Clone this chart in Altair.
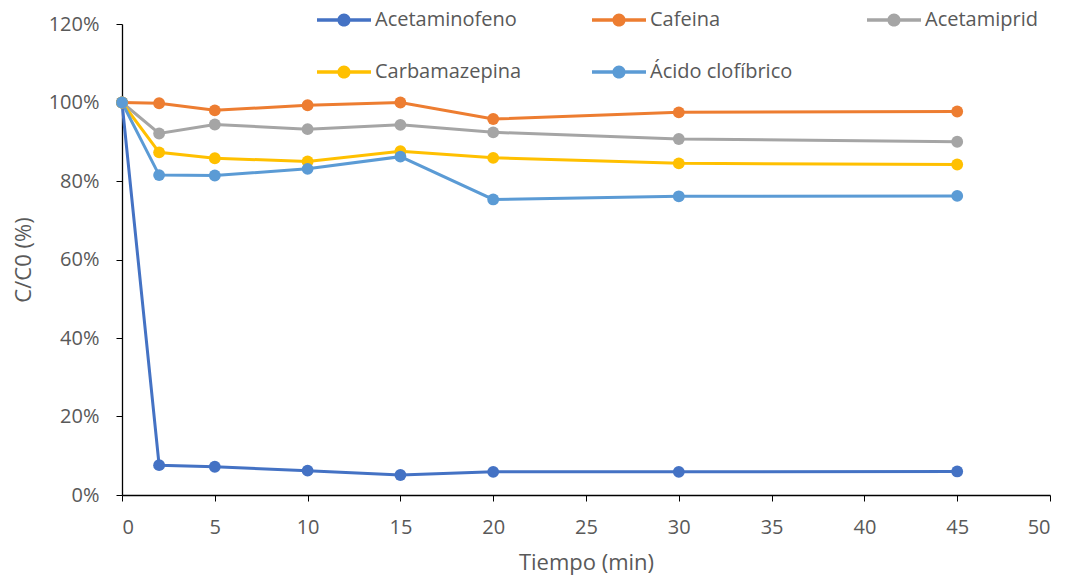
import altair as alt
import pandas as pd

tiempo = [0, 2, 5, 10, 15, 20, 30, 45]
acetaminofeno = [100, 7.6, 7.2, 6.2, 5.1, 5.9, 5.9, 6.0]
cafeina = [100, 99.8, 98.0, 99.3, 100.0, 95.8, 97.5, 97.7]
acetamiprid = [100, 92.1, 94.4, 93.2, 94.3, 92.4, 90.7, 90.0]
carbamazepina = [100, 87.3, 85.8, 85.0, 87.6, 85.9, 84.5, 84.2]
acido = [100, 81.5, 81.4, 83.1, 86.2, 75.3, 76.1, 76.2]

series = ["Acetaminofeno", "Cafeina", "Acetamiprid", "Carbamazepina", "Ácido clofíbrico"]
values = [acetaminofeno, cafeina, acetamiprid, carbamazepina, acido]
colors = ["#4472C4", "#ED7D31", "#A5A5A5", "#FFC000", "#5B9BD5"]

rows = []
for i, (s, v) in enumerate(zip(series, values)):
    for t, y in zip(tiempo, v):
        rows.append({"serie": s, "t": t, "c": y / 100.0, "ord": i})
df = pd.DataFrame(rows)

FONT = "Open Sans"
TXT = "#595959"

sym = ("M-1.8,-0.11 L1.8,-0.11 L1.8,0.11 L-1.8,0.11 Z "
       "M0.44,0 A0.44,0.44 0 1,1 -0.44,0 A0.44,0.44 0 1,1 0.44,0 Z")

legend = alt.Legend(
    title=None, orient="none", legendX=207, legendY=-19, columns=3,
    direction="horizontal", symbolType=sym, symbolSize=900,
    symbolStrokeWidth=0, labelFont=FONT, labelFontSize=20, labelColor=TXT,
    labelOffset=16, columnPadding=70, rowPadding=27, gridAlign="all",
    labelLimit=300,
)

color = alt.Color("serie:N", scale=alt.Scale(domain=series, range=colors),
                  sort=series, legend=legend)

x = alt.X("t:Q", title="Tiempo (min)",
          scale=alt.Scale(domain=[0, 50], nice=False),
          axis=alt.Axis(values=list(range(0, 55, 5)), grid=False,
                        labelPadding=16, titlePadding=15))
y = alt.Y("c:Q", title="C/C0 (%)",
          scale=alt.Scale(domain=[0, 1.2], nice=False),
          axis=alt.Axis(values=[0, 0.2, 0.4, 0.6, 0.8, 1.0, 1.2], format=".0%",
                        grid=False, labelPadding=17, titlePadding=13))

base = alt.Chart(df)
lines = base.mark_line(strokeWidth=3).encode(
    x=x, y=y, color=color, detail="serie:N", order="t:Q")
points = base.mark_point(filled=True, size=140, opacity=1).encode(
    x=x, y=y, color=color, order="ord:Q")

chart = alt.layer(lines, points).properties(
    width=928, height=471,
    autosize=alt.AutoSizeParams(type="none"),
    padding={"left": 122, "top": 24, "right": 35, "bottom": 89},
).configure_view(stroke=None).configure_axis(
    domainColor="#000000", tickColor="#000000", tickSize=6, domainWidth=1.3,
    labelFont=FONT, labelFontSize=20, labelColor=TXT,
    titleFont=FONT, titleFontSize=22, titleColor=TXT, titleFontWeight="normal",
)

chart.save("out.html", embed_options={"renderer": "svg", "actions": False})
